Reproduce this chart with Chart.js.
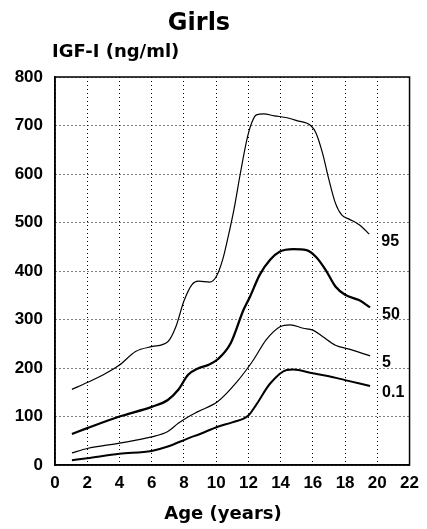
<!DOCTYPE html>
<html>
<head>
<meta charset="utf-8">
<script src="https://cdn.jsdelivr.net/npm/chart.js@4"></script>
<style>
  html, body { margin: 0; padding: 0; background: #fff; }
  #wrap { width: 427px; height: 529px; }
</style>
</head>
<body>
<div id="wrap"><canvas id="c" width="427" height="529"></canvas></div>
<script>
// ---- data ----
const chartTitle = "Girls";
const yTitle = "IGF-I (ng/ml)";
const xTitle = "Age (years)";
const seriesNames = ["95", "50", "5", "0.1"];

const ages95 = [1.05, 2, 3, 4, 5, 6, 7, 7.5, 8.0, 8.5, 8.9, 9.6, 10.0, 10.4, 10.7, 11.1, 11.5, 11.9, 12.2, 12.5, 12.95, 13.6, 14.4, 15.0, 15.9, 16.2, 16.6, 17.0, 17.4, 17.8, 18.25, 18.9, 19.5];
const igf95  = [156, 170, 186, 206, 234, 244, 254, 285, 338, 372, 379, 377, 388, 423, 464, 526, 601, 670, 705, 722, 724, 720, 716, 710, 699, 684, 643, 588, 540, 515, 507, 495, 476];

const ages50 = [1.05, 2, 4, 6, 7, 7.65, 8.26, 8.87, 9.48, 10.1, 10.9, 11.7, 12.1, 12.7, 13.35, 13.96, 14.78, 15.6, 16.2, 16.8, 17.4, 18.0, 18.86, 19.55];
const igf50  = [64, 76, 100, 120, 134, 155, 186, 199, 206, 218, 251, 320, 347, 392, 423, 440, 445, 443, 429, 402, 368, 351, 340, 325];

const ages5 = [1.05, 2, 4, 6, 7, 7.65, 8.2, 8.87, 10.1, 11.3, 12.3, 13.1, 13.96, 14.6, 15.4, 16.0, 16.6, 17.4, 18.25, 19.55];
const igf5  = [25, 34, 45, 58, 69, 86, 98, 110, 131, 172, 216, 258, 285, 289, 282, 278, 265, 247, 239, 225];

const ages01 = [1.05, 2, 4, 6, 7, 8.26, 9.0, 10.1, 11.0, 12.0, 12.5, 13.35, 14.37, 14.78, 16.0, 17.0, 18.0, 19.55];
const igf01  = [10, 14, 23, 29, 38, 55, 64, 79, 88, 102, 125, 168, 196, 197, 189, 183, 175, 163];

const xTicks = [0, 2, 4, 6, 8, 10, 12, 14, 16, 18, 20, 22];
const yTicks = [0, 100, 200, 300, 400, 500, 600, 700, 800];

// ---- build datasets ----
function pts(xs, ys) { return xs.map((x, i) => ({ x: x, y: ys[i] })); }
const widths = [1.2, 2.3, 1.2, 2.0];
const seriesData = [pts(ages95, igf95), pts(ages50, igf50), pts(ages5, igf5), pts(ages01, igf01)];
const datasets = seriesData.map((d, i) => ({
  label: seriesNames[i],
  data: d,
  borderColor: '#000',
  borderWidth: widths[i],
  pointRadius: 0,
  fill: false,
  cubicInterpolationMode: 'monotone'
}));

const tickFont = { family: "'Liberation Sans', Arial, sans-serif", size: 17, weight: 'bold' };

const decor = {
  id: 'decor',
  afterDraw(chart) {
    const ctx = chart.ctx, a = chart.chartArea;
    ctx.save();
    // solid frame
    ctx.strokeStyle = '#000';
    ctx.lineWidth = 1.5;
    ctx.strokeRect(a.left, a.top, a.right - a.left, a.bottom - a.top);
    ctx.fillStyle = '#000';
    // titles
    ctx.font = "bold 24px 'DejaVu Sans', sans-serif";
    ctx.textAlign = 'center'; ctx.textBaseline = 'alphabetic';
    ctx.fillText(chartTitle, 199, 30);
    ctx.font = "bold 18px 'DejaVu Sans', sans-serif";
    ctx.textAlign = 'left';
    ctx.fillText(yTitle, 52, 57);
    ctx.textAlign = 'center';
    ctx.fillText(xTitle, 223, 519);
    // series end labels
    ctx.font = "bold 16px 'Liberation Sans', Arial, sans-serif";
    ctx.textAlign = 'left'; ctx.textBaseline = 'middle';
    chart.data.datasets.forEach((ds, i) => {
      const meta = chart.getDatasetMeta(i);
      const last = meta.data[meta.data.length - 1];
      ctx.fillText(ds.label, last.x + 12, last.y + 7);
    });
    ctx.restore();
  }
};

new Chart(document.getElementById('c'), {
  type: 'line',
  data: { datasets: datasets },
  options: {
    responsive: false,
    animation: false,
    layout: { padding: { top: 77, right: 12, left: 0, bottom: 0 } },
    plugins: { legend: { display: false }, tooltip: { enabled: false }, title: { display: false } },
    scales: {
      x: {
        type: 'linear', min: 0, max: 22,
        afterBuildTicks(s) { s.ticks = xTicks.map(v => ({ value: v })); },
        afterFit(s) { s.height = 64; },
        ticks: { color: '#000', font: tickFont, padding: 8, maxRotation: 0, autoSkip: false },
        grid: { color: '#000', lineWidth: 1, drawTicks: false },
        border: { display: true, color: '#000', width: 1.5, dash: [1, 3] }
      },
      y: {
        type: 'linear', min: 0, max: 800,
        afterBuildTicks(s) { s.ticks = yTicks.map(v => ({ value: v })); },
        afterFit(s) { s.width = 55; },
        ticks: { color: '#000', font: tickFont, padding: 12, autoSkip: false },
        grid: { color: '#000', lineWidth: 1, drawTicks: false },
        border: { display: true, color: '#000', width: 1.5, dash: [1, 3] }
      }
    }
  },
  plugins: [decor]
});
</script>
</body>
</html>
